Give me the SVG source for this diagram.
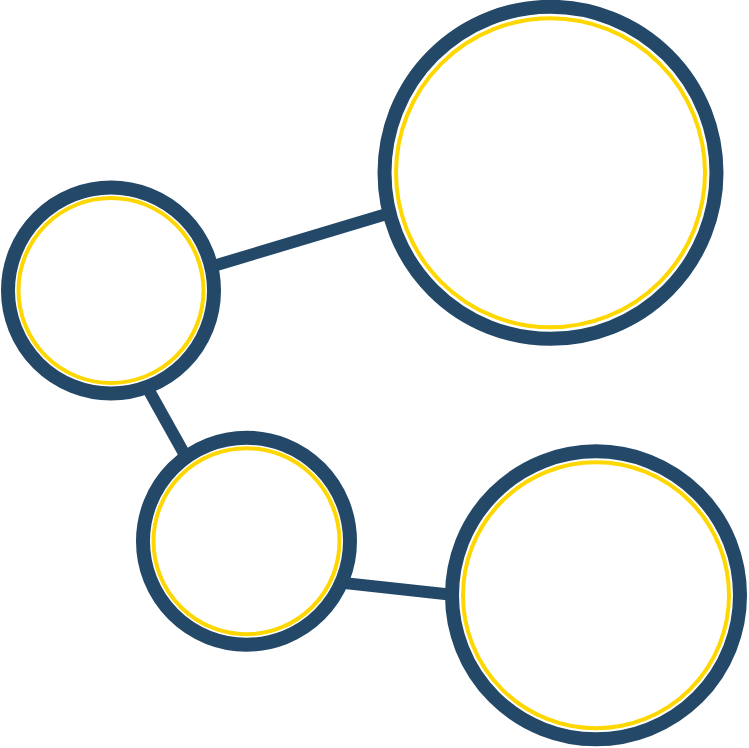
<svg xmlns="http://www.w3.org/2000/svg" width="749" height="748" viewBox="0 0 749 748">
<style>
.ring{fill:#ffffff;stroke:#234868;stroke-width:14}
.inner{fill:none;stroke:#ffd700;stroke-width:4}
.link{stroke:#234868;stroke-width:12;fill:none}
</style>
<rect width="749" height="748" fill="#ffffff"/>
<g id="connectors">
<line class="link" x1="200" y1="270" x2="400" y2="210"/>
<line class="link" x1="138" y1="371" x2="195" y2="473"/>
<line class="link" x1="320" y1="580.4" x2="470" y2="596.7"/>
</g>
<g id="node-top-right">
<circle class="ring" cx="550.5" cy="172.8" r="166"/>
<circle class="inner" cx="550.5" cy="172.8" r="154.5"/>
</g>
<g id="node-left">
<circle class="ring" cx="111" cy="290.5" r="103"/>
<circle class="inner" cx="111" cy="290.5" r="92.5"/>
</g>
<g id="node-middle">
<circle class="ring" cx="246.5" cy="541.2" r="103.5"/>
<circle class="inner" cx="246.5" cy="541.2" r="93"/>
</g>
<g id="node-bottom-right">
<circle class="ring" cx="596" cy="595.3" r="144"/>
<circle class="inner" cx="596" cy="595.3" r="133"/>
</g>
</svg>
